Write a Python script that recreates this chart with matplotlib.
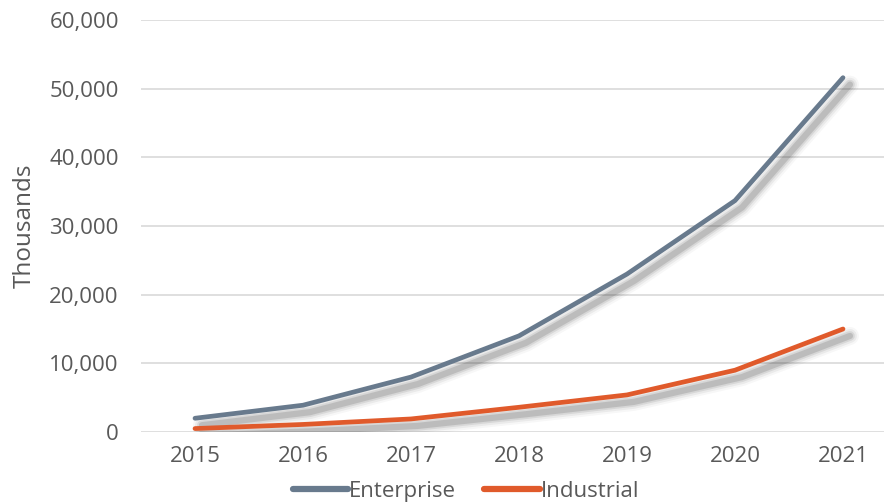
import numpy as np
import matplotlib.pyplot as plt
import matplotlib.patheffects as pe
from matplotlib.ticker import FuncFormatter

years = ['2015', '2016', '2017', '2018', '2019', '2020', '2021']
enterprise = [2000, 3900, 8000, 14000, 23000, 33700, 51600]
industrial = [500, 1100, 1900, 3600, 5400, 9000, 15000]

ENT_COLOR = '#687a8d'
IND_COLOR = '#e05a2b'
TEXT = '#595959'
GRID = '#d9d9d9'
FS = 16

plt.rcParams['font.family'] = ['Open Sans', 'DejaVu Sans']

fig = plt.figure(figsize=(8.84, 5.04), dpi=100)
ax = fig.add_axes([141 / 884, 1 - 432 / 504, (884 - 141) / 884, (432 - 20) / 504])

# soft drop shadow: a few offset strokes stacked with low alpha
shadow = [pe.SimpleLineShadow(offset=(5, -5), shadow_color='#000000',
                              alpha=a, linewidth=lw)
          for a, lw in [(0.03, 13), (0.05, 10), (0.08, 7), (0.12, 4.5)]]

x = np.arange(len(years))
ax.plot(x, enterprise, color=ENT_COLOR, lw=3.4, solid_capstyle='round',
        label='Enterprise', path_effects=shadow + [pe.Normal()], zorder=3)
ax.plot(x, industrial, color=IND_COLOR, lw=3.4, solid_capstyle='round',
        label='Industrial', path_effects=shadow + [pe.Normal()], zorder=3)

ax.set_xlim(-0.5, (884 - 195) / 108)
ax.set_ylim(0, 60000)
ax.set_yticks(np.arange(0, 60001, 10000))
ax.yaxis.set_major_formatter(FuncFormatter(lambda v, p: f'{int(v):,}'))
ax.set_xticks(x)
ax.set_xticklabels(years)

ax.grid(axis='y', color=GRID, lw=1.2)
ax.set_axisbelow(True)
for s in ax.spines.values():
    s.set_visible(False)
ax.tick_params(length=0, labelsize=FS, labelcolor=TEXT)
ax.tick_params(axis='y', pad=16)
ax.tick_params(axis='x', pad=10)

ax.set_ylabel('Thousands', fontsize=17.5, color=TEXT, labelpad=9)

leg = fig.legend(loc='lower center', bbox_to_anchor=(0.527, -0.035), ncol=2,
                 frameon=False, fontsize=FS, handlelength=2.5,
                 handletextpad=0.05, columnspacing=1.25)
for t in leg.get_texts():
    t.set_color(TEXT)
for h in leg.get_lines():
    h.set_linewidth(4.5)
    h.set_path_effects([])

fig.savefig('out.png', dpi=100)
